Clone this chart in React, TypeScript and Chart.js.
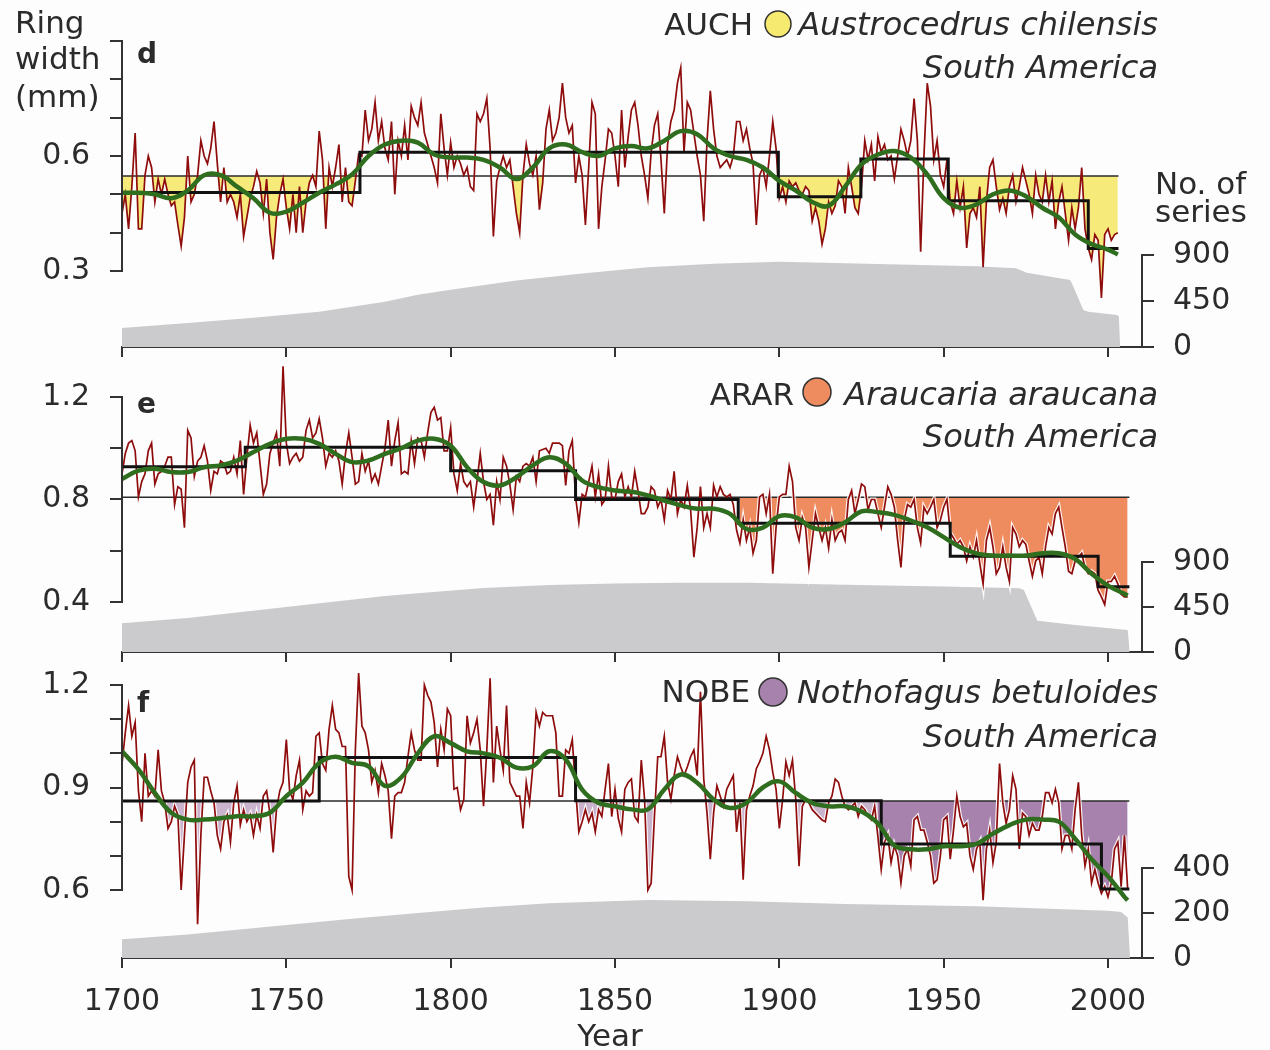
import React, { useEffect, useRef } from "react";
import { Chart, registerables } from "chart.js";

Chart.register(...registerables);

// ---------------- shared ----------------
const FIRST_YEAR = 1700;
const YEAR_TICKS = [1700, 1750, 1800, 1850, 1900, 1950, 2000];

// ---------------- panel d : AUCH (Austrocedrus chilensis) ----------------
const auchWidth = [
  0.45, 0.50, 0.41, 0.52, 0.66, 0.41, 0.41, 0.55, 0.60, 0.57,
  0.48, 0.54, 0.50, 0.54, 0.50, 0.47, 0.48, 0.42, 0.365, 0.44,
  0.60, 0.48, 0.50, 0.55, 0.64, 0.60, 0.58, 0.62, 0.69, 0.58,
  0.48, 0.57, 0.48, 0.50, 0.48, 0.44, 0.50, 0.39, 0.44, 0.49,
  0.52, 0.56, 0.53, 0.45, 0.54, 0.40, 0.33, 0.44, 0.50, 0.54,
  0.465, 0.41, 0.50, 0.40, 0.52, 0.40, 0.48, 0.53, 0.55, 0.52,
  0.665, 0.59, 0.41, 0.57, 0.52, 0.57, 0.63, 0.48, 0.57, 0.48,
  0.47, 0.535, 0.605, 0.60, 0.72, 0.64, 0.67, 0.74, 0.64, 0.69,
  0.62, 0.59, 0.69, 0.50, 0.64, 0.60, 0.68, 0.59, 0.73, 0.70,
  0.68, 0.74, 0.66, 0.63, 0.60, 0.57, 0.53, 0.71, 0.62, 0.55,
  0.635, 0.57, 0.60, 0.58, 0.55, 0.57, 0.52, 0.51, 0.71, 0.69,
  0.71, 0.75, 0.62, 0.39, 0.535, 0.57, 0.60, 0.57, 0.59, 0.52,
  0.45, 0.40, 0.55, 0.63, 0.58, 0.55, 0.60, 0.46, 0.53, 0.67,
  0.72, 0.64, 0.66, 0.70, 0.79, 0.70, 0.66, 0.68, 0.53, 0.60,
  0.55, 0.42, 0.57, 0.74, 0.71, 0.41, 0.52, 0.59, 0.67, 0.66,
  0.60, 0.52, 0.72, 0.57, 0.65, 0.72, 0.74, 0.68, 0.60, 0.55,
  0.49, 0.61, 0.68, 0.71, 0.59, 0.45, 0.63, 0.69, 0.72, 0.79,
  0.83, 0.61, 0.74, 0.72, 0.66, 0.60, 0.55, 0.43, 0.64, 0.77,
  0.67, 0.60, 0.57, 0.58, 0.59, 0.57, 0.60, 0.69, 0.69, 0.64,
  0.67, 0.62, 0.58, 0.42, 0.55, 0.57, 0.52, 0.60, 0.69, 0.62,
  0.49, 0.52, 0.48, 0.535, 0.52, 0.53, 0.51, 0.50, 0.52, 0.51,
  0.43, 0.465, 0.43, 0.37, 0.41, 0.48, 0.45, 0.47, 0.535, 0.52,
  0.45, 0.57, 0.52, 0.465, 0.45, 0.52, 0.64, 0.59, 0.63, 0.535,
  0.65, 0.61, 0.63, 0.59, 0.60, 0.54, 0.60, 0.67, 0.64, 0.60,
  0.64, 0.75, 0.64, 0.35, 0.60, 0.79, 0.73, 0.59, 0.64, 0.55,
  0.52, 0.59, 0.48, 0.45, 0.535, 0.465, 0.52, 0.36, 0.45, 0.465,
  0.44, 0.52, 0.31, 0.48, 0.57, 0.59, 0.52, 0.46, 0.49, 0.45,
  0.52, 0.55, 0.48, 0.52, 0.57, 0.535, 0.50, 0.45, 0.55, 0.50,
  0.48, 0.55, 0.48, 0.535, 0.41, 0.48, 0.52, 0.45, 0.38, 0.465,
  0.41, 0.465, 0.57, 0.41, 0.36, 0.33, 0.395, 0.38, 0.23, 0.395,
  0.41, 0.38, 0.395, 0.40,
];
const auchSmoothYears = [
  1700, 1705, 1710, 1715, 1720, 1725, 1730, 1735, 1740, 1745,
  1750, 1755, 1760, 1765, 1770, 1775, 1780, 1785, 1790, 1795,
  1800, 1805, 1810, 1815, 1820, 1825, 1830, 1835, 1840, 1845,
  1850, 1855, 1860, 1865, 1870, 1875, 1880, 1885, 1890, 1895,
  1900, 1905, 1910, 1915, 1920, 1925, 1930, 1935, 1940, 1945,
  1950, 1955, 1960, 1965, 1970, 1975, 1980, 1985, 1990, 1995,
  2000, 2003,
];
const auchSmooth = [
  0.504, 0.504, 0.50, 0.49, 0.51, 0.55, 0.55, 0.52, 0.49, 0.452,
  0.455, 0.478, 0.504, 0.526, 0.552, 0.60, 0.63, 0.64, 0.635, 0.604,
  0.596, 0.596, 0.59, 0.57, 0.54, 0.57, 0.62, 0.63, 0.61, 0.60,
  0.62, 0.626, 0.62, 0.64, 0.665, 0.657, 0.62, 0.60, 0.59, 0.57,
  0.535, 0.51, 0.48, 0.47, 0.52, 0.578, 0.604, 0.613, 0.596, 0.552,
  0.49, 0.465, 0.474, 0.50, 0.51, 0.495, 0.465, 0.44, 0.395, 0.37,
  0.356, 0.343,
];
const auchStepYears = [1700, 1772.4, 1899.7, 1924.8, 1951.4, 1994, 2003.2];
const auchStepLevels = [0.505, 0.61, 0.494, 0.592, 0.483, 0.359, 0.359];
const auchMean = 0.548;
const auchMeanEnd = 2003.2;
const auchFillYears = [[1700, 1772], [1819, 1828], [1899, 1925], [1951, 2003]];
const auchCountYears = [1700, 1720, 1740, 1760, 1780, 1790, 1800, 1820, 1840, 1860, 1880, 1900, 1920, 1940, 1960, 1972, 1975.3, 1988.5, 1989.5, 1992.5, 1994, 2002.7, 2003.3, 2003.7];
const auchCount = [185, 235, 285, 345, 443, 510, 560, 650, 720, 780, 815, 834, 820, 805, 790, 770, 727, 655, 587, 362, 345, 313, 300, 0];
const auchWidthTicks = [0.3, 0.4, 0.5, 0.6, 0.7, 0.8, 0.9];
const auchWidthLabels = [0.3, 0.6];
const auchCountTicks = [0, 450, 900];

// ---------------- panel e : ARAR (Araucaria araucana) ----------------
const ararWidth = [
  0.90, 0.98, 1.02, 1.03, 0.99, 0.81, 0.87, 0.90, 0.99, 1.02,
  0.86, 0.90, 0.91, 0.93, 0.965, 0.965, 0.78, 0.85, 0.84, 0.69,
  1.07, 1.04, 0.89, 0.95, 0.965, 1.01, 0.95, 0.835, 0.91, 0.90,
  0.95, 0.94, 0.90, 0.91, 0.965, 0.90, 1.03, 0.82, 0.965, 1.09,
  1.02, 1.06, 0.94, 0.82, 0.86, 0.98, 1.02, 1.06, 0.93, 1.32,
  1.02, 0.94, 0.965, 0.98, 0.95, 0.965, 1.07, 1.11, 1.04, 1.06,
  1.115, 1.04, 0.93, 0.98, 0.965, 0.99, 0.95, 0.86, 0.98, 1.06,
  0.965, 0.86, 0.87, 0.98, 0.91, 0.95, 0.87, 0.90, 0.86, 0.93,
  1.00, 1.11, 0.93, 1.03, 1.10, 0.90, 0.91, 0.90, 1.03, 0.94,
  1.04, 1.03, 0.965, 1.06, 1.14, 1.16, 1.11, 1.12, 0.99, 0.99,
  1.08, 0.90, 0.835, 0.94, 0.87, 0.85, 0.87, 0.77, 0.87, 0.98,
  0.87, 0.80, 0.82, 0.70, 0.87, 0.80, 0.965, 0.93, 0.86, 0.76,
  0.89, 0.87, 0.93, 0.94, 0.93, 0.965, 0.87, 0.99, 0.995, 1.00,
  0.98, 1.02, 1.02, 1.02, 1.01, 0.855, 0.99, 1.03, 0.81, 0.71,
  0.82, 0.81, 0.87, 0.93, 0.81, 0.90, 0.78, 0.80, 0.93, 0.81,
  0.80, 0.87, 0.90, 0.81, 0.85, 0.81, 0.91, 0.835, 0.745, 0.745,
  0.77, 0.85, 0.835, 0.77, 0.80, 0.72, 0.835, 0.80, 0.91, 0.745,
  0.80, 0.77, 0.855, 0.76, 0.575, 0.69, 0.85, 0.69, 0.745, 0.69,
  0.855, 0.81, 0.85, 0.82, 0.81, 0.82, 0.78, 0.68, 0.63, 0.72,
  0.64, 0.69, 0.59, 0.64, 0.81, 0.82, 0.745, 0.82, 0.51, 0.69,
  0.81, 0.82, 0.82, 0.93, 0.87, 0.69, 0.64, 0.73, 0.69, 0.535,
  0.64, 0.745, 0.69, 0.64, 0.69, 0.61, 0.72, 0.64, 0.67, 0.68,
  0.64, 0.80, 0.835, 0.745, 0.80, 0.86, 0.85, 0.76, 0.80, 0.80,
  0.745, 0.69, 0.77, 0.85, 0.82, 0.77, 0.64, 0.535, 0.72, 0.78,
  0.77, 0.80, 0.69, 0.63, 0.77, 0.745, 0.77, 0.80, 0.69, 0.72,
  0.77, 0.80, 0.67, 0.65, 0.625, 0.64, 0.615, 0.56, 0.615, 0.575,
  0.64, 0.55, 0.47, 0.64, 0.69, 0.615, 0.51, 0.535, 0.615, 0.535,
  0.48, 0.69, 0.665, 0.615, 0.64, 0.625, 0.56, 0.50, 0.56, 0.575,
  0.51, 0.615, 0.69, 0.665, 0.745, 0.77, 0.69, 0.615, 0.52, 0.51,
  0.56, 0.575, 0.59, 0.535, 0.51, 0.52, 0.51, 0.445, 0.42, 0.39,
  0.48, 0.48, 0.50, 0.47, 0.43, 0.42, 0.42,
];
const ararSmoothYears = [
  1700, 1705, 1710, 1715, 1720, 1725, 1730, 1735, 1740, 1745,
  1750, 1755, 1760, 1765, 1770, 1775, 1780, 1785, 1790, 1795,
  1800, 1805, 1810, 1815, 1820, 1825, 1830, 1835, 1840, 1845,
  1850, 1855, 1860, 1865, 1870, 1875, 1880, 1885, 1890, 1895,
  1900, 1905, 1910, 1915, 1920, 1925, 1930, 1935, 1940, 1945,
  1950, 1955, 1960, 1965, 1970, 1975, 1980, 1985, 1990, 1995,
  2000, 2005, 2006,
];
const ararSmooth = [
  0.88, 0.913, 0.92, 0.907, 0.907, 0.926, 0.933, 0.952, 0.985, 1.017,
  1.037, 1.037, 1.017, 0.978, 0.946, 0.952, 0.978, 1.0, 1.03, 1.037,
  1.01, 0.926, 0.868, 0.855, 0.887, 0.933, 0.965, 0.94, 0.874, 0.848,
  0.835, 0.83, 0.816, 0.796, 0.777, 0.764, 0.764, 0.744, 0.685, 0.69,
  0.735, 0.73, 0.69, 0.685, 0.711, 0.754, 0.75, 0.74, 0.718, 0.692,
  0.653, 0.614, 0.59, 0.581, 0.581, 0.581, 0.59, 0.59, 0.568, 0.51,
  0.464, 0.432, 0.425,
];
const ararStepYears = [1700, 1737.5, 1800, 1838, 1887.5, 1952, 1997, 2006.5];
const ararStepLevels = [0.928, 1.004, 0.912, 0.80, 0.707, 0.579, 0.46, 0.46];
const ararMean = 0.809;
const ararMeanEnd = 2006.5;
const ararFillYears = [[1888, 2006]];
const ararCountYears = [1700, 1720, 1750, 1780, 1790, 1810, 1830, 1850, 1870, 1890, 1920, 1950, 1973, 1974.4, 1978.5, 1990, 2006, 2006.6];
const ararCount = [287, 340, 450, 560, 587, 640, 670, 685, 693, 693, 672, 655, 637, 620, 313, 270, 220, 0];
const ararWidthTicks = [0.4, 0.6, 0.8, 1.0, 1.2];
const ararWidthLabels = [0.4, 0.8, 1.2];
const ararCountTicks = [0, 450, 900];

// ---------------- panel f : NOBE (Nothofagus betuloides) ----------------
const nobeWidth = [
  0.97, 1.06, 1.14, 1.05, 1.09, 0.89, 0.80, 1.00, 0.875, 0.89,
  0.875, 1.01, 0.89, 0.855, 0.78, 0.80, 0.845, 0.82, 0.60, 0.76,
  0.915, 0.96, 0.98, 0.50, 0.76, 0.93, 0.93, 0.89, 0.855, 0.76,
  0.72, 0.80, 0.82, 0.74, 0.855, 0.905, 0.79, 0.835, 0.80, 0.82,
  0.76, 0.82, 0.78, 0.875, 0.89, 0.825, 0.71, 0.835, 0.89, 0.915,
  1.04, 0.89, 0.865, 0.935, 0.98, 0.835, 0.89, 0.875, 0.885, 1.05,
  1.06, 0.97, 0.95, 1.07, 1.14, 1.07, 1.06, 1.02, 1.02, 0.64,
  0.60, 1.01, 1.235, 1.08, 1.06, 1.01, 0.915, 0.95, 0.885, 0.97,
  0.935, 0.89, 0.75, 0.875, 0.885, 0.885, 0.915, 0.99, 1.06, 1.01,
  0.98, 0.98, 1.20, 1.17, 1.15, 1.09, 0.96, 1.07, 1.01, 1.13,
  1.11, 0.895, 0.90, 0.835, 0.865, 1.11, 1.03, 1.06, 1.10, 1.01,
  0.845, 1.01, 1.22, 0.915, 1.08, 1.01, 0.95, 1.14, 0.915, 0.895,
  0.875, 0.875, 0.78, 0.915, 0.855, 0.96, 1.12, 1.08, 1.12, 1.11,
  1.11, 1.11, 1.06, 0.875, 0.875, 1.01, 1.00, 1.04, 0.895, 0.77,
  0.80, 0.835, 0.80, 0.825, 0.77, 0.835, 0.815, 0.895, 0.97, 0.815,
  0.895, 0.81, 0.77, 0.895, 0.915, 0.925, 0.815, 0.80, 0.98, 0.865,
  0.60, 0.62, 0.815, 0.99, 0.99, 1.05, 0.915, 0.865, 0.935, 0.99,
  0.96, 0.935, 0.96, 0.99, 1.01, 0.935, 1.18, 0.925, 0.825, 0.69,
  0.825, 0.905, 0.875, 0.845, 0.895, 0.915, 0.935, 0.77, 0.855, 0.63,
  0.835, 0.875, 0.905, 0.955, 0.975, 1.00, 1.05, 1.01, 0.945, 0.895,
  0.78, 0.865, 0.975, 0.935, 0.98, 0.865, 0.67, 0.845, 0.865, 0.855,
  0.835, 0.825, 0.815, 0.805, 0.80, 0.855, 0.875, 0.925, 0.915, 0.875,
  0.845, 0.835, 0.845, 0.855, 0.815, 0.845, 0.835, 0.815, 0.805, 0.845,
  0.755, 0.66, 0.74, 0.76, 0.68, 0.73, 0.70, 0.62, 0.70, 0.72,
  0.67, 0.805, 0.815, 0.775, 0.775, 0.74, 0.70, 0.62, 0.63, 0.70,
  0.805, 0.815, 0.69, 0.775, 0.875, 0.815, 0.785, 0.795, 0.70, 0.66,
  0.72, 0.74, 0.57, 0.72, 0.775, 0.68, 0.74, 0.97, 0.855, 0.795,
  0.835, 0.935, 0.895, 0.72, 0.825, 0.815, 0.76, 0.795, 0.775, 0.775,
  0.815, 0.885, 0.885, 0.855, 0.895, 0.855, 0.72, 0.76, 0.76, 0.72,
  0.835, 0.915, 0.76, 0.67, 0.72, 0.62, 0.66, 0.62, 0.59, 0.61,
  0.58, 0.62, 0.72, 0.74, 0.61, 0.76, 0.60,
];
const nobeSmoothYears = [
  1700, 1705, 1710, 1715, 1720, 1725, 1730, 1735, 1740, 1745,
  1750, 1755, 1760, 1765, 1770, 1775, 1780, 1785, 1790, 1795,
  1800, 1805, 1810, 1815, 1820, 1825, 1830, 1835, 1840, 1845,
  1850, 1855, 1860, 1865, 1870, 1875, 1880, 1885, 1890, 1895,
  1900, 1905, 1910, 1915, 1920, 1925, 1930, 1935, 1940, 1945,
  1950, 1955, 1960, 1965, 1970, 1975, 1980, 1985, 1990, 1995,
  2000, 2005, 2006,
];
const nobeSmooth = [
  1.006, 0.953, 0.884, 0.826, 0.806, 0.806, 0.81, 0.816, 0.816, 0.826,
  0.875, 0.914, 0.972, 0.99, 0.972, 0.962, 0.905, 0.93, 1.0, 1.05,
  1.03, 1.006, 1.0, 0.987, 0.958, 0.962, 1.006, 0.982, 0.894, 0.855,
  0.845, 0.836, 0.836, 0.894, 0.938, 0.914, 0.865, 0.84, 0.855, 0.90,
  0.918, 0.884, 0.855, 0.845, 0.845, 0.83, 0.795, 0.73, 0.719, 0.719,
  0.728, 0.728, 0.735, 0.765, 0.79, 0.806, 0.806, 0.80, 0.75, 0.69,
  0.64, 0.58, 0.57,
];
const nobeStepYears = [1700, 1760, 1838, 1931, 1998, 2006.5];
const nobeStepLevels = [0.8605, 0.988, 0.861, 0.735, 0.603, 0.603];
const nobeMean = 0.8605;
const nobeMeanEnd = 2006.5;
const nobeLightFillYears = [[1700, 1760], [1838, 1930]];
const nobeFillYears = [[1930, 2006]];
const nobeCountYears = [1700, 1720, 1750, 1770, 1790, 1810, 1830, 1860, 1890, 1920, 1960, 2000, 2004, 2006, 2006.7];
const nobeCount = [83, 105, 147, 175, 200, 225, 243, 258, 252, 240, 230, 210, 205, 180, 0];
const nobeWidthTicks = [0.6, 0.7, 0.8, 0.9, 1.0, 1.1, 1.2];
const nobeWidthLabels = [0.6, 0.9, 1.2];
const nobeCountTicks = [0, 200, 400];

// ---------------- styling / layout ----------------
const SANS = '"DejaVu Sans", "Open Sans", sans-serif';
const TEXT = "#2b2b2b";
const AXIS = "#333333";
const RED = "#8e0c0c";
const GREEN = "#2f6e1f";
const GRAY = "#cbcbce";
const PLOT_LEFT = 122;
const PLOT_RIGHT = 1142;
const PX_2000 = 1108;

type TextItem = { text: string; x: number; y: number; font: string; align?: CanvasTextAlign };
type CircleItem = { x: number; y: number; r: number; fill: string };
type FillSpec = { ranges: number[][]; color: string };
type PanelSpec = {
  key: string;
  canvasTop: number;
  canvasHeight: number;
  areaTop: number;
  areaBottom: number;
  left: { v1: number; p1: number; v2: number; p2: number; ticks: number[]; labels: number[] };
  right: { top: number; pTop: number; ticks: number[] };
  showXLabels: boolean;
  width: number[];
  smoothYears: number[];
  smooth: number[];
  stepYears: number[];
  stepLevels: number[];
  mean: number;
  meanEnd: number;
  fills: FillSpec[];
  haloRanges: number[][];
  countYears: number[];
  counts: number[];
  texts: TextItem[];
  circles: CircleItem[];
};

const reg = (s: number) => `${s}px ${SANS}`;
const ital = (s: number) => `italic ${s}px ${SANS}`;
const bold = (s: number) => `bold ${s}px ${SANS}`;

const seriesPoints = (vals: number[]) => vals.map((v, i) => ({ x: FIRST_YEAR + i, y: v }));
const pairPoints = (xs: number[], ys: number[]) => xs.map((x, i) => ({ x, y: ys[i] }));
const rangePoints = (vals: number[], ranges: number[][]) =>
  vals.map((v, i) => {
    const yr = FIRST_YEAR + i;
    const inside = ranges.some(([a, b]) => yr >= a && yr <= b);
    return { x: yr, y: inside ? v : null };
  });

const PANELS: PanelSpec[] = [
  {
    key: "d",
    canvasTop: 0,
    canvasHeight: 362,
    areaTop: 5,
    areaBottom: 347,
    left: { v1: 0.9, p1: 41, v2: 0.3, p2: 271, ticks: auchWidthTicks, labels: auchWidthLabels },
    right: { top: 900, pTop: 255, ticks: auchCountTicks },
    showXLabels: false,
    width: auchWidth,
    smoothYears: auchSmoothYears,
    smooth: auchSmooth,
    stepYears: auchStepYears,
    stepLevels: auchStepLevels,
    mean: auchMean,
    meanEnd: auchMeanEnd,
    fills: [{ ranges: auchFillYears, color: "#f6ea7a" }],
    haloRanges: [],
    countYears: auchCountYears,
    counts: auchCount,
    texts: [
      { text: "Ring", x: 15, y: 33, font: reg(31) },
      { text: "width", x: 15, y: 69, font: reg(31) },
      { text: "(mm)", x: 15, y: 107, font: reg(31) },
      { text: "d", x: 137, y: 63, font: bold(28) },
      { text: "AUCH", x: 753, y: 35, font: reg(31), align: "right" },
      { text: "Austrocedrus chilensis", x: 1158, y: 35, font: ital(32), align: "right" },
      { text: "South America", x: 1158, y: 78, font: ital(32), align: "right" },
      { text: "No. of", x: 1155, y: 194, font: reg(31) },
      { text: "series", x: 1155, y: 222, font: reg(31) },
    ],
    circles: [{ x: 778, y: 24, r: 13, fill: "#f6ea70" }],
  },
  {
    key: "e",
    canvasTop: 347,
    canvasHeight: 320,
    areaTop: 349,
    areaBottom: 652,
    left: { v1: 1.2, p1: 397, v2: 0.4, p2: 602, ticks: ararWidthTicks, labels: ararWidthLabels },
    right: { top: 900, pTop: 562, ticks: ararCountTicks },
    showXLabels: false,
    width: ararWidth,
    smoothYears: ararSmoothYears,
    smooth: ararSmooth,
    stepYears: ararStepYears,
    stepLevels: ararStepLevels,
    mean: ararMean,
    meanEnd: ararMeanEnd,
    fills: [{ ranges: ararFillYears, color: "#ee8b5f" }],
    haloRanges: ararFillYears,
    countYears: ararCountYears,
    counts: ararCount,
    texts: [
      { text: "e", x: 137, y: 413, font: bold(28) },
      { text: "ARAR", x: 794, y: 405, font: reg(31), align: "right" },
      { text: "Araucaria araucana", x: 1158, y: 405, font: ital(32), align: "right" },
      { text: "South America", x: 1158, y: 447, font: ital(32), align: "right" },
    ],
    circles: [{ x: 817, y: 392, r: 14, fill: "#ee8b5f" }],
  },
  {
    key: "f",
    canvasTop: 652,
    canvasHeight: 398,
    areaTop: 655,
    areaBottom: 958,
    left: { v1: 1.2, p1: 685, v2: 0.6, p2: 890, ticks: nobeWidthTicks, labels: nobeWidthLabels },
    right: { top: 400, pTop: 868, ticks: nobeCountTicks },
    showXLabels: true,
    width: nobeWidth,
    smoothYears: nobeSmoothYears,
    smooth: nobeSmooth,
    stepYears: nobeStepYears,
    stepLevels: nobeStepLevels,
    mean: nobeMean,
    meanEnd: nobeMeanEnd,
    fills: [
      { ranges: nobeLightFillYears, color: "rgba(168,130,174,0.6)" },
      { ranges: nobeFillYears, color: "#a782ad" },
    ],
    haloRanges: [[1700, 1760], [1838, 2006]],
    countYears: nobeCountYears,
    counts: nobeCount,
    texts: [
      { text: "f", x: 137, y: 712, font: bold(28) },
      { text: "NOBE", x: 750, y: 702, font: reg(31), align: "right" },
      { text: "Nothofagus betuloides", x: 1158, y: 703, font: ital(32), align: "right" },
      { text: "South America", x: 1158, y: 747, font: ital(32), align: "right" },
      { text: "Year", x: 610, y: 1046, font: reg(31), align: "center" },
    ],
    circles: [{ x: 773, y: 692, r: 14, fill: "#a782ad" }],
  },
];

function decorPlugin(s: PanelSpec) {
  return {
    id: "decor_" + s.key,
    afterDraw(chart: any) {
      const { ctx, chartArea, scales } = chart;
      const yl = scales.y;
      const yr = scales.y1;
      ctx.save();
      ctx.strokeStyle = AXIS;
      ctx.lineWidth = 2;
      ctx.beginPath();
      const lt = s.left.ticks;
      ctx.moveTo(chartArea.left, yl.getPixelForValue(lt[0]) + 1);
      ctx.lineTo(chartArea.left, yl.getPixelForValue(lt[lt.length - 1]) - 1);
      const rt = s.right.ticks;
      ctx.moveTo(chartArea.right, yr.getPixelForValue(rt[0]) + 1);
      ctx.lineTo(chartArea.right, yr.getPixelForValue(rt[rt.length - 1]) - 1);
      ctx.stroke();
      ctx.fillStyle = TEXT;
      ctx.textBaseline = "alphabetic";
      for (const t of s.texts) {
        ctx.font = t.font;
        ctx.textAlign = t.align || "left";
        ctx.fillText(t.text, t.x, t.y - s.canvasTop);
      }
      for (const c of s.circles) {
        ctx.beginPath();
        ctx.arc(c.x, c.y - s.canvasTop, c.r, 0, Math.PI * 2);
        ctx.fillStyle = c.fill;
        ctx.fill();
        ctx.lineWidth = 1.5;
        ctx.strokeStyle = AXIS;
        ctx.stroke();
      }
      ctx.restore();
    },
  };
}

function buildChart(canvas: HTMLCanvasElement, s: PanelSpec) {
  const pxPerUnit = (s.left.p2 - s.left.p1) / (s.left.v1 - s.left.v2);
  const yMin = s.left.v1 - (s.areaBottom - s.left.p1) / pxPerUnit;
  const yMax = s.left.v1 + (s.left.p1 - s.areaTop) / pxPerUnit;
  const countPerPx = s.right.top / (s.areaBottom - s.right.pTop);
  const countMax = (s.areaBottom - s.areaTop) * countPerPx;
  const pxPerYear = (PX_2000 - PLOT_LEFT) / (2000 - FIRST_YEAR);
  const xMax = FIRST_YEAR + (PLOT_RIGHT - PLOT_LEFT) / pxPerYear;
  const xAxisHeight = s.canvasHeight - (s.areaBottom - s.canvasTop);
  const tickFont = { family: SANS, size: 30 };

  const datasets: any[] = [];
  datasets.push({
    label: "green",
    data: pairPoints(s.smoothYears, s.smooth),
    borderColor: GREEN,
    borderWidth: 4.5,
    tension: 0.4,
    fill: false,
    order: 1,
  });
  datasets.push({
    label: "step",
    data: pairPoints(s.stepYears, s.stepLevels),
    borderColor: "#111111",
    borderWidth: 3,
    stepped: true,
    fill: false,
    order: 2,
  });
  datasets.push({
    label: "ring",
    data: seriesPoints(s.width),
    borderColor: RED,
    borderWidth: 1.7,
    fill: false,
    order: 3,
  });
  if (s.haloRanges.length) {
    datasets.push({
      label: "halo",
      data: rangePoints(s.width, s.haloRanges),
      borderColor: "rgba(255,255,255,0.9)",
      borderWidth: 4,
      fill: false,
      spanGaps: false,
      order: 4,
    });
  }
  datasets.push({
    label: "mean",
    data: [
      { x: FIRST_YEAR, y: s.mean },
      { x: s.meanEnd, y: s.mean },
    ],
    borderColor: "#2a2a2a",
    borderWidth: 1.5,
    fill: false,
    order: 5,
  });
  s.fills.forEach((f, i) => {
    datasets.push({
      label: "fill" + i,
      data: rangePoints(s.width, f.ranges),
      borderWidth: 0,
      borderColor: "rgba(0,0,0,0)",
      backgroundColor: f.color,
      fill: { target: { value: s.mean }, above: "rgba(0,0,0,0)", below: f.color },
      spanGaps: false,
      order: 6 + i,
    });
  });
  datasets.push({
    label: "count",
    data: pairPoints(s.countYears, s.counts),
    yAxisID: "y1",
    borderWidth: 0,
    borderColor: "rgba(0,0,0,0)",
    backgroundColor: GRAY,
    fill: "origin",
    order: 20,
  });
  datasets.forEach((d) => {
    if (!d.yAxisID) d.yAxisID = "y";
    d.xAxisID = "x";
    d.pointRadius = 0;
    d.pointHoverRadius = 0;
  });

  return new Chart(canvas, {
    type: "line",
    data: { datasets },
    plugins: [decorPlugin(s)],
    options: {
      animation: false,
      responsive: false,
      devicePixelRatio: 1,
      events: [],
      layout: { padding: { top: s.areaTop - s.canvasTop, bottom: 0, left: 0, right: 0 } },
      plugins: { legend: { display: false }, tooltip: { enabled: false }, title: { display: false } },
      scales: {
        x: {
          type: "linear",
          position: "bottom",
          min: FIRST_YEAR,
          max: xMax,
          afterBuildTicks: (sc: any) => {
            sc.ticks = YEAR_TICKS.map((v) => ({ value: v }));
          },
          afterFit: (sc: any) => {
            sc.height = xAxisHeight;
            sc.paddingLeft = 0;
            sc.paddingRight = 0;
          },
          grid: { drawOnChartArea: false, drawTicks: true, tickLength: 10, lineWidth: 2, color: AXIS },
          border: { display: true, width: 2, color: AXIS },
          ticks: {
            display: s.showXLabels,
            autoSkip: false,
            maxRotation: 0,
            padding: 16,
            font: tickFont,
            color: TEXT,
            callback: (v: any) => String(v),
          },
        },
        y: {
          type: "linear",
          position: "left",
          min: yMin,
          max: yMax,
          afterBuildTicks: (sc: any) => {
            sc.ticks = s.left.ticks.map((v) => ({ value: v }));
          },
          afterFit: (sc: any) => {
            sc.width = PLOT_LEFT;
            sc.paddingTop = 0;
            sc.paddingBottom = 0;
          },
          grid: { drawOnChartArea: false, drawTicks: true, tickLength: 12, lineWidth: 2, color: AXIS },
          border: { display: false },
          ticks: {
            autoSkip: false,
            padding: 20,
            font: tickFont,
            color: TEXT,
            callback: (v: any) => (s.left.labels.some((l) => Math.abs(l - v) < 1e-9) ? Number(v).toFixed(1) : ""),
          },
        },
        y1: {
          type: "linear",
          position: "right",
          min: 0,
          max: countMax,
          afterBuildTicks: (sc: any) => {
            sc.ticks = s.right.ticks.map((v) => ({ value: v }));
          },
          afterFit: (sc: any) => {
            sc.width = 1270 - PLOT_RIGHT;
            sc.paddingTop = 0;
            sc.paddingBottom = 0;
          },
          grid: { drawOnChartArea: false, drawTicks: true, tickLength: 12, lineWidth: 2, color: AXIS },
          border: { display: false },
          ticks: {
            autoSkip: false,
            padding: 19,
            font: tickFont,
            color: TEXT,
            callback: (v: any) => String(v),
          },
        },
      },
    } as any,
  });
}

function Panel({ spec }: { spec: PanelSpec }) {
  const ref = useRef<HTMLCanvasElement | null>(null);
  useEffect(() => {
    if (!ref.current) return;
    const chart = buildChart(ref.current, spec);
    return () => chart.destroy();
  }, [spec]);
  return (
    <canvas
      ref={ref}
      width={1270}
      height={spec.canvasHeight}
      style={{ position: "absolute", left: 0, top: spec.canvasTop, width: 1270, height: spec.canvasHeight }}
    />
  );
}

export default function App() {
  return (
    <div
      style={{
        position: "absolute",
        left: 0,
        top: 0,
        width: 1270,
        height: 1050,
        background: "#fdfdfd",
        overflow: "hidden",
      }}
    >
      {PANELS.map((p) => (
        <Panel key={p.key} spec={p} />
      ))}
    </div>
  );
}
